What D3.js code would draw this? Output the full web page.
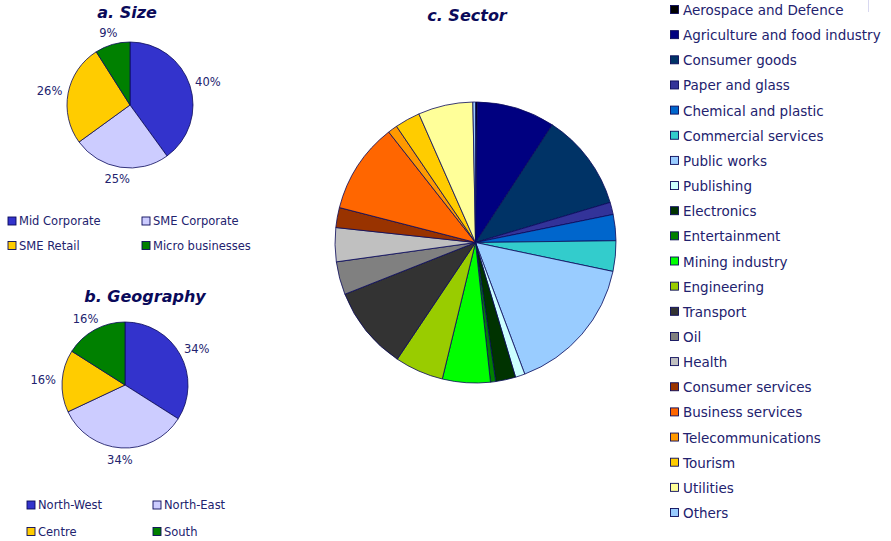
<!DOCTYPE html>
<html><head><meta charset="utf-8">
<script src="https://cdn.jsdelivr.net/npm/d3@7"></script>
<style>
html,body{margin:0;padding:0;background:#fff;}
svg{display:block;font-family:"DejaVu Sans",Verdana,sans-serif;}
</style></head>
<body><svg id="c" width="891" height="541"></svg>
<script>
// ---- data ----
const sizeCategories = ["Mid Corporate", "SME Corporate", "SME Retail", "Micro businesses"];
const sizeValues = [40, 25, 26, 9];
const sizeColors = ["#3333CC", "#CCCCFF", "#FFCC00", "#008000"];

const geoCategories = ["North-West", "North-East", "Centre", "South"];
const geoValues = [34, 34, 16, 16];
const geoColors = ["#3333CC", "#CCCCFF", "#FFCC00", "#008000"];

const sectorCategories = ["Aerospace and Defence", "Agriculture and food industry", "Consumer goods",
  "Paper and glass", "Chemical and plastic", "Commercial services", "Public works", "Publishing",
  "Electronics", "Entertainment", "Mining industry", "Engineering", "Transport", "Oil", "Health",
  "Consumer services", "Business services", "Telecommunications", "Tourism", "Utilities", "Others"];
const sectorValues = [0.2, 9.0, 11.2, 1.4, 3.0, 3.5, 16.0, 1.1, 2.3, 0.6, 5.5, 5.6, 9.6, 3.8, 3.9,
  2.3, 10.4, 1.1, 2.9, 6.3, 0.3];
const sectorColors = ["#000000", "#000080", "#003366", "#333399", "#0066CC", "#33CCCC", "#99CCFF",
  "#CCFFFF", "#003300", "#008000", "#00FF00", "#99CC00", "#333333", "#808080", "#C0C0C0",
  "#993300", "#FF6600", "#FF9900", "#FFCC00", "#FFFF99", "#99CCFF"];

const titles = ["a. Size", "b. Geography", "c. Sector"];

// ---- drawing ----
const svg = d3.select("#c");
const TXT = "#22226E";
const TITLE = "#0A0A5A";
const EDGE = "#0A0A5A";

function drawPie(cx, cy, r, values, colors, withLabels) {
  const pie = d3.pie().sort(null).value(d => d)(values);
  const arc = d3.arc().innerRadius(0).outerRadius(r);
  const g = svg.append("g").attr("transform", `translate(${cx},${cy})`);
  g.selectAll("path").data(pie).join("path")
    .attr("d", arc)
    .attr("fill", (d, i) => colors[i])
    .attr("stroke", EDGE).attr("stroke-width", 0.8).attr("stroke-linejoin", "round");
  if (withLabels) {
    g.selectAll("text").data(pie).join("text")
      .each(function(d) {
        const a = (d.startAngle + d.endAngle) / 2;
        const s = Math.sin(a), c = -Math.cos(a);
        const label = Math.round(d.value) + "%";
        const hw = label.length * 4.3;
        const R = r + 6;
        d3.select(this)
          .attr("x", s * R + s * hw)
          .attr("y", c * R + c * 6)
          .text(label);
      })
      .attr("text-anchor", "middle")
      .attr("dominant-baseline", "central")
      .attr("font-size", "11.5px")
      .attr("fill", TXT);
  }
}

function title(x, y, t) {
  svg.append("text").attr("x", x).attr("y", y).attr("text-anchor", "middle")
    .attr("dominant-baseline", "central")
    .attr("font-size", "16px").attr("font-weight", "bold").attr("font-style", "italic")
    .attr("fill", TITLE).text(t);
}

function legend2x2(x0, x1, y0, y1, cats, colors) {
  cats.forEach((c, i) => {
    const x = i % 2 === 0 ? x0 : x1;
    const y = i < 2 ? y0 : y1;
    svg.append("rect").attr("x", x).attr("y", y - 4).attr("width", 8).attr("height", 8)
      .attr("fill", colors[i]).attr("stroke", EDGE).attr("stroke-width", 0.9);
    svg.append("text").attr("x", x + 11).attr("y", y).attr("dominant-baseline", "central")
      .attr("font-size", "11.5px").attr("fill", TXT).text(c);
  });
}

// a. Size
title(127, 12, titles[0]);
drawPie(130, 105, 63, sizeValues, sizeColors, true);
legend2x2(8, 142, 221, 245.5, sizeCategories, sizeColors);

// b. Geography
title(145, 296, titles[1]);
drawPie(125, 385, 63, geoValues, geoColors, true);
legend2x2(27, 153, 505, 531.5, geoCategories, geoColors);

// c. Sector
title(467, 15, titles[2]);
drawPie(475.5, 242.5, 140.5, sectorValues, sectorColors, false);

const ly = d3.scalePoint().domain(sectorCategories).range([10, 513]);
sectorCategories.forEach((c, i) => {
  const y = ly(c);
  svg.append("rect").attr("x", 670.5).attr("y", y - 4.5).attr("width", 8).attr("height", 8)
    .attr("fill", sectorColors[i]).attr("stroke", EDGE).attr("stroke-width", 0.9);
  svg.append("text").attr("x", 683).attr("y", y).attr("dominant-baseline", "central")
    .attr("font-size", "13.5px").attr("fill", TXT).text(c);
});

// faint frame artefact at top right
svg.append("line").attr("x1", 868.5).attr("x2", 868.5).attr("y1", 0).attr("y2", 12)
  .attr("stroke", "#D8D8F0").attr("stroke-width", 1);
</script></body></html>
